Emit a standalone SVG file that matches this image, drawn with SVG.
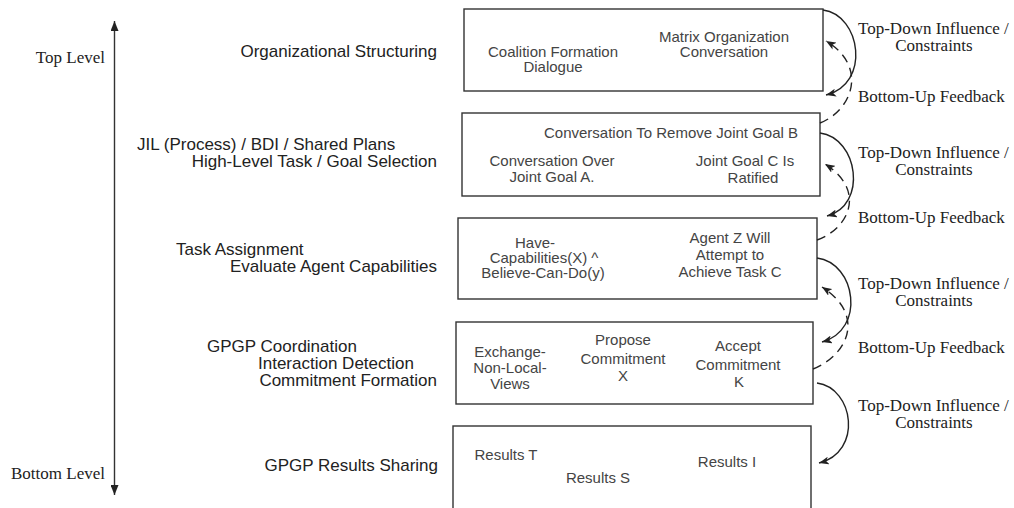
<svg xmlns="http://www.w3.org/2000/svg" width="1014" height="508" viewBox="0 0 1014 508">
<defs>
<marker id="ah" viewBox="0 0 10 8" refX="10" refY="4" markerWidth="10" markerHeight="8" markerUnits="userSpaceOnUse" orient="auto">
<path d="M0,0 L10,4 L0,8 L2.5,4 z" fill="#222"/>
</marker>
<marker id="axh" viewBox="0 0 8 10" refX="4" refY="0" markerWidth="8" markerHeight="10" markerUnits="userSpaceOnUse" orient="0">
<path d="M4,0 L8,10 L0,10 z" fill="#222"/>
</marker>
<marker id="axt" viewBox="0 0 8 10" refX="4" refY="10" markerWidth="8" markerHeight="10" markerUnits="userSpaceOnUse" orient="0">
<path d="M0,0 L8,0 L4,10 z" fill="#222"/>
</marker>
</defs>
<style>
.box{fill:#fff;stroke:#333;stroke-width:1.4}
.bt{font-family:"Liberation Sans",Arial,sans-serif;font-size:15px;fill:#444;text-anchor:middle}
.lab{font-family:"Liberation Sans",Arial,sans-serif;font-size:17px;fill:#222}
.ser{font-family:"Liberation Serif","Times New Roman",serif;font-size:17px;fill:#222}
.end{text-anchor:end}
.mid{text-anchor:middle}
.sol{fill:none;stroke:#222;stroke-width:1.4;marker-end:url(#ah)}
.dash{fill:none;stroke:#222;stroke-width:1.4;stroke-dasharray:9,6;marker-end:url(#ah)}
</style>
<rect width="1014" height="508" fill="#fff"/>

<g id="axis">
<line x1="114.5" y1="21" x2="114.5" y2="495" stroke="#333" stroke-width="1.4" marker-start="url(#axh)" marker-end="url(#axt)"/>
<text class="ser end" x="105" y="63">Top Level</text>
<text class="ser end" x="105" y="479">Bottom Level</text>
</g>

<g id="level-labels">
<text class="lab end" x="437" y="57">Organizational Structuring</text>
<text class="lab" x="137" y="150">JIL (Process) / BDI / Shared Plans</text>
<text class="lab end" x="437" y="167">High-Level Task / Goal Selection</text>
<text class="lab" x="176" y="255">Task Assignment</text>
<text class="lab end" x="437" y="272">Evaluate Agent Capabilities</text>
<text class="lab" x="207" y="352">GPGP Coordination</text>
<text class="lab" x="258" y="369">Interaction Detection</text>
<text class="lab end" x="437" y="386">Commitment Formation</text>
<text class="lab end" x="438" y="471">GPGP Results Sharing</text>
</g>

<g id="box-org">
<rect class="box" x="464" y="9" width="359" height="82"/>
<text class="bt" x="553" y="57">Coalition Formation</text>
<text class="bt" x="553" y="72">Dialogue</text>
<text class="bt" x="724" y="42">Matrix Organization</text>
<text class="bt" x="724" y="57">Conversation</text>
</g>

<g id="box-jil">
<rect class="box" x="462" y="113" width="358" height="83"/>
<text class="bt" x="671" y="138">Conversation To Remove Joint Goal B</text>
<text class="bt" x="552" y="166">Conversation Over</text>
<text class="bt" x="552" y="182">Joint Goal A.</text>
<text class="bt" x="745" y="166">Joint Goal C Is</text>
<text class="bt" x="753" y="183">Ratified</text>
</g>

<g id="box-task">
<rect class="box" x="458" y="218" width="359" height="81"/>
<text class="bt" x="535" y="248">Have-</text>
<text class="bt" x="544" y="263">Capabilities(X) ^</text>
<text class="bt" x="543" y="278">Believe-Can-Do(y)</text>
<text class="bt" x="730" y="243">Agent Z Will</text>
<text class="bt" x="730" y="260">Attempt to</text>
<text class="bt" x="730" y="277">Achieve Task C</text>
</g>

<g id="box-gpgp">
<rect class="box" x="456" y="322" width="357" height="82"/>
<text class="bt" x="510" y="357">Exchange-</text>
<text class="bt" x="510" y="373">Non-Local-</text>
<text class="bt" x="510" y="389">Views</text>
<text class="bt" x="623" y="345">Propose</text>
<text class="bt" x="623" y="364">Commitment</text>
<text class="bt" x="623" y="381">X</text>
<text class="bt" x="738" y="351">Accept</text>
<text class="bt" x="738" y="370">Commitment</text>
<text class="bt" x="739" y="387">K</text>
</g>

<g id="box-results">
<rect class="box" x="453" y="426" width="358" height="100"/>
<text class="bt" x="506" y="460">Results T</text>
<text class="bt" x="598" y="483">Results S</text>
<text class="bt" x="727" y="467">Results I</text>
</g>

<g id="connectors">
<path class="sol" d="M823,10 C861,15 871,84 826,95"/>
<path class="dash" d="M820,123 C853,110 868,66 826,41"/>
<path class="sol" d="M820,133 C858,138 868,205 827,216"/>
<path class="dash" d="M817,240 C850,228 866,190 825,164"/>
<path class="sol" d="M817,258 C856,263 866,330 822,342"/>
<path class="dash" d="M813,369 C848,355 866,315 822,287"/>
<path class="sol" d="M817,383 C854,388 863,452 819,463"/>
</g>

<g id="influence-labels">
<text class="ser" x="858" y="34">Top-Down Influence /</text>
<text class="ser mid" x="934" y="51">Constraints</text>
<text class="ser" x="858" y="102">Bottom-Up Feedback</text>
<text class="ser" x="858" y="158">Top-Down Influence /</text>
<text class="ser mid" x="934" y="175">Constraints</text>
<text class="ser" x="858" y="223">Bottom-Up Feedback</text>
<text class="ser" x="858" y="289">Top-Down Influence /</text>
<text class="ser mid" x="934" y="306">Constraints</text>
<text class="ser" x="858" y="353">Bottom-Up Feedback</text>
<text class="ser" x="858" y="411">Top-Down Influence /</text>
<text class="ser mid" x="934" y="428">Constraints</text>
</g>
</svg>
